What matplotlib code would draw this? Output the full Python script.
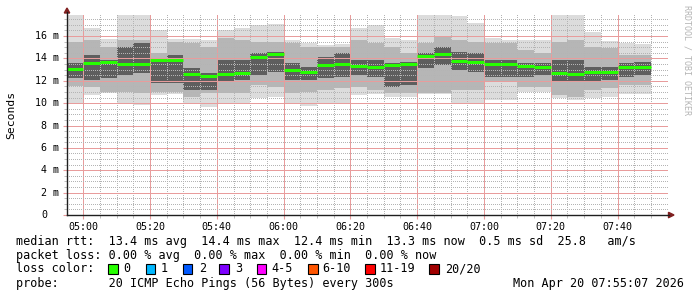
import matplotlib
matplotlib.use("Agg")
import matplotlib.pyplot as plt
import matplotlib.dates as mdates
from matplotlib.lines import Line2D
from matplotlib.patches import Polygon, Rectangle
import numpy as np
import pandas as pd

# 5 minute steps, one entry per step (start time)
times = pd.date_range("2026-04-20 04:55", periods=35, freq="5min")

# median rtt (ms)
median = [13.08, 13.62, 13.71, 13.50, 13.47, 13.83, 13.86, 12.60, 12.40, 12.63,
          12.69, 14.16, 14.40, 12.96, 12.78, 13.41, 13.50, 13.29, 13.26, 13.44,
          13.50, 14.21, 14.39, 13.80, 13.68, 13.53, 13.50, 13.29, 13.26, 12.69,
          12.60, 12.78, 12.78, 13.20, 13.26]
# smoke: slowest / fastest ping
rtt_max = [17.90, 16.69, 15.70, 17.90, 17.90, 16.54, 15.70, 15.70, 15.64, 16.54,
           16.69, 16.99, 17.07, 15.64, 15.41, 15.20, 15.29, 16.69, 16.99, 15.85,
           15.64, 17.88, 17.88, 17.79, 17.13, 15.85, 15.64, 15.64, 15.64, 17.88,
           17.88, 16.39, 15.55, 15.35, 15.29]
rtt_min = [9.98, 10.73, 10.94, 9.98, 9.83, 10.73, 10.82, 9.89, 9.68, 10.04,
           10.04, 10.43, 10.58, 9.89, 9.74, 9.98, 9.98, 10.73, 10.82, 10.58,
           10.58, 10.79, 10.79, 10.04, 10.04, 10.28, 10.28, 10.97, 10.97, 10.43,
           10.28, 10.49, 10.58, 10.82, 10.82]
# middle part of the smoke
mid_hi = [15.50, 15.65, 15.05, 15.65, 15.65, 14.46, 15.50, 15.35, 15.05, 15.80,
          15.65, 15.50, 15.50, 15.35, 15.05, 15.05, 15.05, 15.65, 15.35, 15.05,
          14.46, 15.35, 15.95, 15.65, 15.50, 15.35, 15.35, 14.75, 14.46, 15.50,
          15.65, 15.05, 14.90, 14.31, 14.31]
mid_lo = [11.50, 11.48, 11.03, 11.03, 10.88, 11.03, 11.03, 10.58, 10.88, 10.88,
          10.88, 11.63, 11.48, 10.88, 11.03, 11.18, 11.33, 11.48, 11.18, 10.88,
          10.88, 10.88, 10.88, 11.18, 11.18, 11.92, 11.92, 11.48, 11.48, 10.73,
          10.58, 11.18, 11.33, 11.63, 11.63]
# dark core around the median
core_hi = [13.56, 14.31, 13.86, 15.05, 15.35, 14.01, 14.31, 13.11, 12.67, 13.86,
           13.86, 14.46, 14.60, 13.56, 13.26, 14.16, 14.46, 13.86, 13.86, 13.56,
           13.71, 14.46, 15.05, 14.60, 14.46, 13.86, 13.86, 13.56, 13.56, 13.86,
           13.86, 13.26, 13.26, 13.56, 13.71]
core_lo = [12.22, 12.07, 12.22, 12.52, 12.67, 11.77, 11.77, 11.18, 11.18, 11.92,
           12.07, 12.52, 12.82, 12.07, 12.07, 12.22, 12.37, 12.52, 12.37, 11.48,
           11.63, 13.11, 13.41, 12.97, 12.82, 12.37, 12.37, 12.37, 12.52, 11.92,
           11.92, 11.92, 12.07, 12.37, 12.52]

loss_labels = ["0", "1", "2", "3", "4-5", "6-10", "11-19", "20/20"]
loss_colors = ["#26ff00", "#00b8ff", "#0059ff", "#7e00ff", "#ff00ff", "#ff5500", "#ff0000", "#a10000"]

W, H = 697, 297
MONO = "DejaVu Sans Mono"
plt.rcParams["font.family"] = MONO

fig = plt.figure(figsize=(W / 100, H / 100), dpi=100)
fig.patch.set_facecolor("white")
ax = fig.add_axes([67 / W, 1 - 215 / H, 601 / W, 201 / H])

x = mdates.date2num(times)
step = 5 / 1440

ax.bar(x, np.subtract(rtt_max, rtt_min), bottom=rtt_min, width=step, align="edge",
       color="#dcdcdc", linewidth=0, zorder=1)
ax.bar(x, np.subtract(mid_hi, mid_lo), bottom=mid_lo, width=step, align="edge",
       color="#b6b6b6", linewidth=0, zorder=1.1)
ax.bar(x, np.subtract(core_hi, core_lo), bottom=core_lo, width=step, align="edge",
       color="#5e5e5e", linewidth=0, zorder=1.2)
ax.hlines(median, x, x + step, color="#26ff00", lw=2.2, zorder=4, capstyle="butt")

t0 = mdates.date2num(pd.Timestamp("2026-04-20 04:55:07"))
t1 = mdates.date2num(pd.Timestamp("2026-04-20 07:55:07"))
ax.set_xlim(t0, t1)
ax.set_ylim(0, 17.97)

ax.xaxis.set_major_locator(mdates.MinuteLocator(byminute=[0, 20, 40]))
ax.xaxis.set_minor_locator(mdates.MinuteLocator(byminute=range(0, 60, 5)))
ax.xaxis.set_major_formatter(mdates.DateFormatter("%H:%M"))
yticks = np.arange(0, 17, 2)
ax.set_yticks(yticks)
ax.set_yticks(np.arange(0, 18, 0.5), minor=True)
ax.set_yticklabels([])

mgrid = "#e89c9c"
grid = "#b4b4b4"
ax.set_axisbelow(False)
ax.grid(which="minor", color=grid, linestyle=(0, (1, 2)), lw=0.72, antialiased=False)
ax.grid(which="major", color=mgrid, linestyle=(0, (1, 1)), lw=0.72, antialiased=False)
ax.tick_params(axis="x", which="major", labelsize=7.2, length=3, pad=2, color=mgrid)
ax.tick_params(axis="y", which="major", length=3, color=mgrid)
ax.tick_params(which="minor", length=2, color=grid)
for s in ax.spines.values():
    s.set_visible(False)

# y tick labels, rrdtool style
for v in yticks:
    if v == 0:
        ax.annotate("0", (0, v), xycoords=("axes fraction", "data"), xytext=(-20, 0),
                    textcoords="offset pixels", ha="right", va="center", fontsize=7.2)
    else:
        ax.annotate(f"{v:d} m", (0, v), xycoords=("axes fraction", "data"), xytext=(-8, 0),
                    textcoords="offset pixels", ha="right", va="center", fontsize=7.2)


def fx(px):
    return px / W


def fy(py):
    return 1 - py / H


axis_col = (0.12, 0.12, 0.12)
arrow_col = (0.5, 0.12, 0.12)
fig.add_artist(Line2D([fx(67), fx(669)], [fy(215), fy(215)], color=axis_col, lw=1.0))
fig.add_artist(Line2D([fx(67), fx(67)], [fy(215), fy(12)], color=axis_col, lw=1.0))
fig.add_artist(Polygon([(fx(67), fy(8)), (fx(64.3), fy(13)), (fx(69.7), fy(13))],
                       closed=True, color=arrow_col, transform=fig.transFigure))
fig.add_artist(Polygon([(fx(674), fy(215)), (fx(668.5), fy(212.3)), (fx(668.5), fy(217.7))],
                       closed=True, color=arrow_col, transform=fig.transFigure))

fig.text(fx(11), fy(115), "Seconds", rotation=90, ha="center", va="center", fontsize=8.2)
fig.text(fx(687), fy(60), "RRDTOOL / TOBI OETIKER", rotation=270, ha="center", va="center",
         fontsize=6, color="#b4b4b4")

fs = 8.5
fig.text(fx(16), fy(241.5),
         "median rtt:  13.4 ms avg  14.4 ms max  12.4 ms min  13.3 ms now  0.5 ms sd  25.8   am/s",
         ha="left", va="center", fontsize=fs)
fig.text(fx(16), fy(255.3),
         "packet loss: 0.00 % avg  0.00 % max  0.00 % min  0.00 % now",
         ha="left", va="center", fontsize=fs)
fig.text(fx(16), fy(269), "loss color:", ha="left", va="center", fontsize=fs)
box_x = [108, 145.7, 182.7, 219.3, 256.5, 308, 365, 429]
lab_x = [123, 161, 199, 235, 271, 322, 380, 445]
for bx, lx, lab, col in zip(box_x, lab_x, loss_labels, loss_colors):
    fig.add_artist(Rectangle((fx(bx), fy(273.7)), 9.5 / W, 9.5 / H, facecolor=col,
                             edgecolor="black", lw=0.8, transform=fig.transFigure))
    fig.text(fx(lx), fy(269), lab, ha="left", va="center", fontsize=fs)
fig.text(fx(16), fy(283), "probe:       20 ICMP Echo Pings (56 Bytes) every 300s",
         ha="left", va="center", fontsize=fs)
fig.text(fx(513), fy(283), "Mon Apr 20 07:55:07 2026", ha="left", va="center", fontsize=fs)

fig.savefig("out.png", dpi=100, facecolor="white")
